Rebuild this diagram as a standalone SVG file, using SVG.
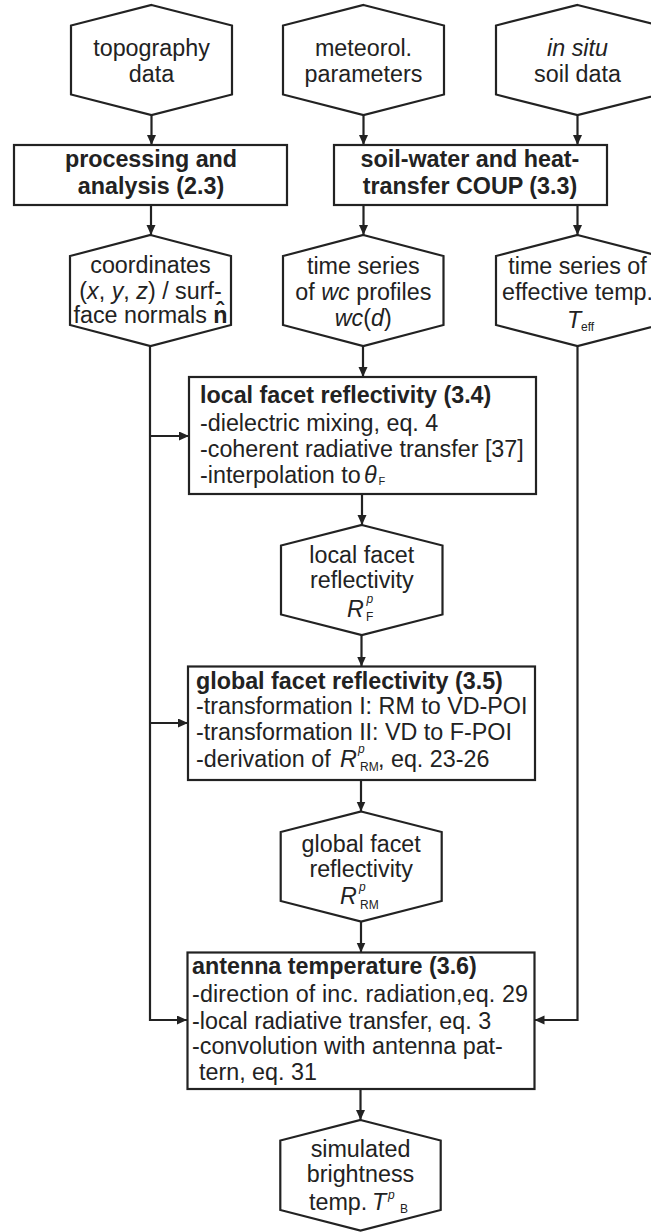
<svg xmlns="http://www.w3.org/2000/svg" width="651" height="1232" viewBox="0 0 651 1232">
<defs>
<marker id="ah" markerUnits="userSpaceOnUse" markerWidth="11" markerHeight="10" refX="10" refY="4.5" orient="auto">
<path d="M0,0 L10,4.5 L0,9 z" fill="#222"/>
</marker>
</defs>
<style>
.shape{fill:#fff;stroke:#222;stroke-width:2.2}
.t{font-family:"Liberation Sans",Arial,sans-serif;font-size:23.3px;fill:#222}
.c{text-anchor:middle}
.b{font-weight:bold}
.i{font-style:italic}
.s{font-size:12px}
.conn path{fill:none;stroke:#222;stroke-width:2.2;marker-end:url(#ah)}
</style>
<rect width="651" height="1232" fill="#fff"/>

<g id="connectors" class="conn">
<path d="M151.5,115 V145"/>
<path d="M363.5,115 V145"/>
<path d="M577.5,115 V145"/>
<path d="M151,205 V235"/>
<path d="M363.5,205 V235"/>
<path d="M577.5,205 V235"/>
<path d="M363,346 V377"/>
<path d="M150,346 V1020 H187"/>
<path d="M150,436 H189"/>
<path d="M150,723 H188"/>
<path d="M362,494 V525"/>
<path d="M361.5,635 V666.5"/>
<path d="M361,780 V811.5"/>
<path d="M361,921.5 V952.5"/>
<path d="M577.5,345.5 V1020 H534.5"/>
<path d="M360.5,1089 V1120"/>
</g>

<g id="topography">
<polygon class="shape" points="151.5,5 232,25.5 232,94.5 151.5,115 71,94.5 71,25.5"/>
<text class="t c" x="151.5" y="56">topography</text>
<text class="t c" x="151.5" y="82">data</text>
</g>

<g id="meteorol">
<polygon class="shape" points="363.5,5 444,25.5 444,94.5 363.5,115 283,94.5 283,25.5"/>
<text class="t c" x="363.5" y="56">meteorol.</text>
<text class="t c" x="363.5" y="82">parameters</text>
</g>

<g id="insitu">
<polygon class="shape" points="577.5,5 659,25.5 659,94.5 577.5,115 496,94.5 496,25.5"/>
<text class="t c i" x="577.5" y="56">in situ</text>
<text class="t c" x="577.5" y="82">soil data</text>
</g>

<g id="processing">
<rect class="shape" x="14" y="145" width="273" height="60"/>
<text class="t c b" x="151" y="167">processing and</text>
<text class="t c b" x="151" y="194">analysis (2.3)</text>
</g>

<g id="coup">
<rect class="shape" x="334" y="145" width="273" height="60"/>
<text class="t c b" x="470" y="167">soil-water and heat-</text>
<text class="t c b" x="470" y="194">transfer COUP (3.3)</text>
</g>

<g id="coordinates">
<polygon class="shape" points="150.5,235 231,256 231,325 150.5,346 70,325 70,256"/>
<text class="t c" x="150.5" y="273">coordinates</text>
<text class="t c" x="150.5" y="299">(<tspan class="i">x</tspan>, <tspan class="i">y</tspan>, <tspan class="i">z</tspan>) / surf-</text>
<text class="t c" x="150.5" y="323">face normals <tspan class="b">n̂</tspan></text>
</g>

<g id="wcprofiles">
<polygon class="shape" points="363.3,235 443.5,256 443.5,325 363.3,346 283,325 283,256"/>
<text class="t c" x="363.3" y="274">time series</text>
<text class="t c" x="363.3" y="300">of <tspan class="i">wc</tspan> profiles</text>
<text class="t c" x="363.3" y="326"><tspan class="i">wc</tspan>(<tspan class="i">d</tspan>)</text>
</g>

<g id="teff">
<polygon class="shape" points="577.5,235 659,256 659,325 577.5,346 496,325 496,256"/>
<text class="t c" x="577.5" y="274">time series of</text>
<text class="t c" x="577.5" y="300">effective temp.</text>
<text class="t i" x="567" y="328">T</text>
<text class="t s" x="581" y="331">eff</text>
</g>

<g id="localbox">
<rect class="shape" x="189" y="377" width="347" height="117"/>
<text class="t b" x="200" y="403">local facet reflectivity (3.4)</text>
<text class="t" x="200" y="430.5">-dielectric mixing, eq. 4</text>
<text class="t" x="200" y="457">-coherent radiative transfer [37]</text>
<text class="t" x="200" y="482.5">-interpolation to</text>
<text class="t i" x="364" y="482.5">θ</text>
<text class="t" x="378.5" y="485" style="font-size:11px">F</text>
</g>

<g id="localhex">
<polygon class="shape" points="361.8,525 442.5,545.5 442.5,614.5 361.8,635 281,614.5 281,545.5"/>
<text class="t c" x="361.8" y="562.5">local facet</text>
<text class="t c" x="361.8" y="587.5">reflectivity</text>
<text class="t i" x="347" y="616.5">R</text>
<text class="t i s" x="366.5" y="603">p</text>
<text class="t s" x="366" y="621">F</text>
</g>

<g id="globalbox">
<rect class="shape" x="188" y="666.5" width="347" height="113.5"/>
<text class="t b" x="196" y="688.5">global facet reflectivity (3.5)</text>
<text class="t" x="196" y="713.5">-transformation I: RM to VD-POI</text>
<text class="t" x="196" y="740">-transformation II: VD to F-POI</text>
<text class="t" x="196" y="766.5">-derivation of</text>
<text class="t i" x="340" y="766.5">R</text>
<text class="t i s" x="358" y="753">p</text>
<text class="t s" x="360" y="771">RM</text>
<text class="t" x="378" y="766.5">, eq. 23-26</text>
</g>

<g id="globalhex">
<polygon class="shape" points="361.2,811.5 441.7,832 441.7,901 361.2,921.5 280.7,901 280.7,832"/>
<text class="t c" x="361.2" y="851.5">global facet</text>
<text class="t c" x="361.2" y="876.5">reflectivity</text>
<text class="t i" x="340" y="904">R</text>
<text class="t i s" x="359" y="891">p</text>
<text class="t s" x="360" y="909">RM</text>
</g>

<g id="antenna">
<rect class="shape" x="187.5" y="952.5" width="347" height="136.5"/>
<text class="t b" x="192" y="973.5">antenna temperature (3.6)</text>
<text class="t" x="192" y="1001.5" textLength="336" lengthAdjust="spacing">-direction of inc. radiation,eq. 29</text>
<text class="t" x="192" y="1028.5">-local radiative transfer, eq. 3</text>
<text class="t" x="192" y="1054">-convolution with antenna pat-</text>
<text class="t" x="199" y="1080">tern, eq. 31</text>
</g>

<g id="simulated">
<polygon class="shape" points="360.5,1120 440.7,1140.5 440.7,1210 360.5,1230.5 280.3,1210 280.3,1140.5"/>
<text class="t c" x="360.5" y="1156.5">simulated</text>
<text class="t c" x="360.5" y="1181.5">brightness</text>
<text class="t" x="309" y="1210">temp.</text>
<text class="t i" x="372" y="1210">T</text>
<text class="t i s" x="388" y="1199">p</text>
<text class="t s" x="400" y="1213">B</text>
</g>
</svg>
